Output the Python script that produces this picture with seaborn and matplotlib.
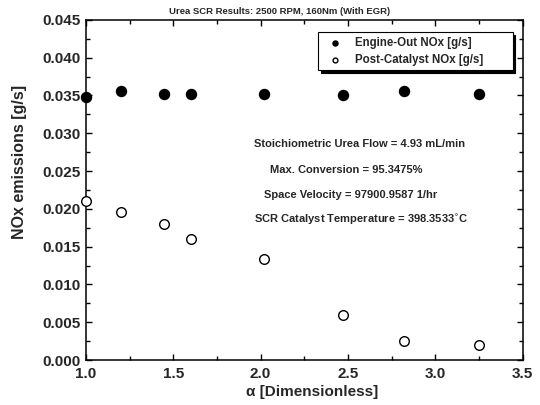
import numpy as np
import pandas as pd
import matplotlib
matplotlib.use("Agg")
import matplotlib.pyplot as plt
import seaborn as sns
from matplotlib.ticker import MultipleLocator

sns.set_style("ticks")
plt.rcParams["font.family"] = ["Liberation Sans", "DejaVu Sans"]

# ====================================
# Data
# ====================================

alpha = [1.0, 1.2, 1.45, 1.6, 2.02, 2.47, 2.82, 3.25]
engine_out = [0.0348, 0.0356, 0.03525, 0.03525, 0.03525, 0.0350, 0.0356, 0.0352]
post_cat = [0.0211, 0.01955, 0.0180, 0.0160, 0.0133, 0.0060, 0.00255, 0.00195]

series_names = ["Engine-Out NOx [g/s]", "Post-Catalyst NOx [g/s]"]

notes = [
    "Stoichiometric Urea Flow = 4.93 mL/min",
    "Max. Conversion = 95.3475%",
    "Space Velocity = 97900.9587 1/hr",
    "SCR Catalyst Temperature = 398.3533$^{\\circ}$C",
]

df = pd.DataFrame({
    "alpha": alpha * 2,
    "nox": engine_out + post_cat,
    "series": [series_names[0]] * len(alpha) + [series_names[1]] * len(alpha),
})

fig = plt.figure(figsize=(5.4, 4.05), dpi=100)
ax = fig.add_axes([0.159, 0.111, 0.809, 0.840])

sns.scatterplot(
    data=df[df["series"] == series_names[0]],
    x="alpha", y="nox",
    color="black", edgecolor="black",
    s=52, linewidth=1.0, marker="o",
    label=series_names[0], ax=ax, clip_on=False, zorder=3
)
sns.scatterplot(
    data=df[df["series"] == series_names[1]],
    x="alpha", y="nox",
    color="white", edgecolor="black",
    s=48, linewidth=1.0, marker="o",
    label=series_names[1], ax=ax, clip_on=False, zorder=3
)

ax.set_xlim(1.0, 3.5)
ax.set_ylim(0.0, 0.045)
ax.xaxis.set_major_locator(MultipleLocator(0.5))
ax.xaxis.set_minor_locator(MultipleLocator(0.25))
ax.yaxis.set_major_locator(MultipleLocator(0.005))
ax.yaxis.set_minor_locator(MultipleLocator(0.0025))
ax.yaxis.set_major_formatter(plt.FormatStrFormatter("%.3f"))
ax.xaxis.set_major_formatter(plt.FormatStrFormatter("%.1f"))

ax.tick_params(which="both", direction="in", top=True, right=True, width=1.0, color="black")
ax.tick_params(which="major", length=4.5, labelsize=11)
ax.tick_params(axis="x", which="major", pad=5)
ax.tick_params(which="minor", length=3)
for lbl in ax.get_xticklabels() + ax.get_yticklabels():
    lbl.set_fontweight("bold")

for sp in ax.spines.values():
    sp.set_linewidth(1.1)
    sp.set_color("black")

ax.set_xlabel("\u03b1 [Dimensionless]", fontsize=11, fontweight="bold")
ax.set_ylabel("NOx emissions [g/s]", fontsize=11.5, fontweight="bold")
ax.xaxis.set_label_coords(0.519, -0.072)
ax.yaxis.set_label_coords(-0.135, 0.582)

fig.text(280 / 540, 1 - 11 / 405, "Urea SCR Results: 2500 RPM, 160Nm (With EGR)",
         ha="center", va="center", fontsize=6.8, fontweight="bold")

leg = ax.legend(
    loc="upper left", bbox_to_anchor=(0.531, 0.853, 0.446, 0.11), mode="expand",
    frameon=True, fancybox=False, shadow={"color": "black", "alpha": 1.0},
    edgecolor="black", prop={"weight": "bold", "size": 8.3},
    borderpad=0.4, handlelength=2.2, handletextpad=0.6, labelspacing=0.4,
    markerscale=0.5, borderaxespad=0.0
)
leg.get_frame().set_linewidth(0.8)

note_pos = [(254, 144), (270, 170), (264, 195), (254, 220)]
for txt, (px, py) in zip(notes, note_pos):
    ax.text((px - 86) / 437, (360 - py) / 340, txt, transform=ax.transAxes,
            ha="left", va="center", fontsize=8, fontweight="bold")

fig.savefig("out.png", dpi=100)
plt.close(fig)
